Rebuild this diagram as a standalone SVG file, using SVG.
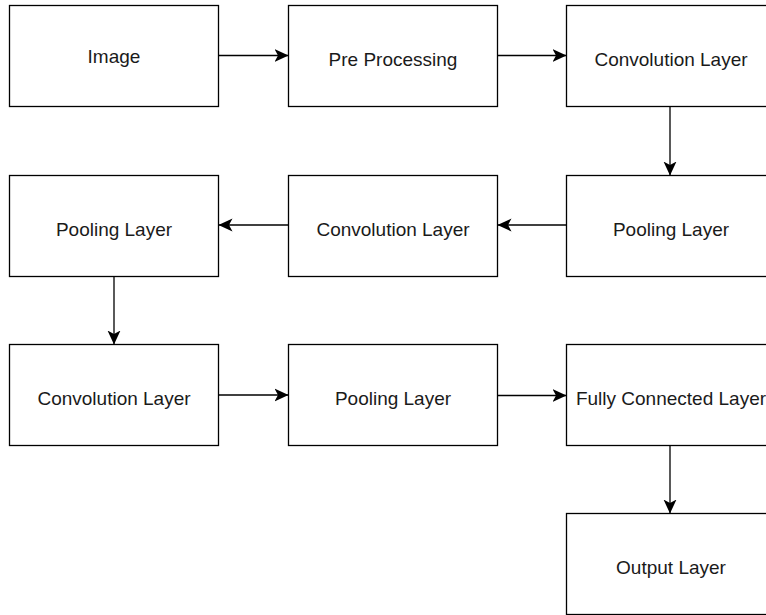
<svg xmlns="http://www.w3.org/2000/svg" width="766" height="615" viewBox="0 0 766 615">
<style>
.box{fill:#fff;stroke:#000;stroke-width:1.3}
.lbl{font-family:"Liberation Sans",Arial,sans-serif;font-size:19px;fill:#1a1a1a;text-anchor:middle}
.edge{fill:none;stroke:#000;stroke-width:1.3}
</style>
<defs>
<marker id="arr" viewBox="0 0 14 14" refX="14" refY="7" markerWidth="14" markerHeight="14" markerUnits="userSpaceOnUse" orient="auto">
<path d="M0,0.5 L14,7 L0,13.5 L3.5,7 Z" fill="#000"/>
</marker>
</defs>
<rect width="766" height="615" fill="#fff"/>
<g id="connectors">
<line class="edge" x1="218.5" y1="55.5" x2="288.5" y2="55.5" marker-end="url(#arr)"/>
<line class="edge" x1="497.5" y1="55.5" x2="566.5" y2="55.5" marker-end="url(#arr)"/>
<line class="edge" x1="670" y1="106.5" x2="670" y2="175.5" marker-end="url(#arr)"/>
<line class="edge" x1="566.5" y1="225" x2="497.5" y2="225" marker-end="url(#arr)"/>
<line class="edge" x1="288.5" y1="225" x2="218.5" y2="225" marker-end="url(#arr)"/>
<line class="edge" x1="114" y1="276.5" x2="114" y2="344.5" marker-end="url(#arr)"/>
<line class="edge" x1="218.5" y1="395" x2="288.5" y2="395" marker-end="url(#arr)"/>
<line class="edge" x1="497.5" y1="395.5" x2="566.5" y2="395.5" marker-end="url(#arr)"/>
<line class="edge" x1="670" y1="445.5" x2="670" y2="513.5" marker-end="url(#arr)"/>
</g>
<g id="image"><rect class="box" x="9.5" y="5.5" width="209" height="101"/><text class="lbl" x="114" y="63">Image</text></g>
<g id="preprocessing"><rect class="box" x="288.5" y="5.5" width="209" height="101"/><text class="lbl" x="393" y="66">Pre Processing</text></g>
<g id="conv1"><rect class="box" x="566.5" y="5.5" width="209" height="101"/><text class="lbl" x="671" y="66">Convolution Layer</text></g>
<g id="pool1"><rect class="box" x="566.5" y="175.5" width="209" height="101"/><text class="lbl" x="671" y="236">Pooling Layer</text></g>
<g id="conv2"><rect class="box" x="288.5" y="175.5" width="209" height="101"/><text class="lbl" x="393" y="236">Convolution Layer</text></g>
<g id="pool2"><rect class="box" x="9.5" y="175.5" width="209" height="101"/><text class="lbl" x="114" y="236">Pooling Layer</text></g>
<g id="conv3"><rect class="box" x="9.5" y="344.5" width="209" height="101"/><text class="lbl" x="114" y="405">Convolution Layer</text></g>
<g id="pool3"><rect class="box" x="288.5" y="344.5" width="209" height="101"/><text class="lbl" x="393" y="405">Pooling Layer</text></g>
<g id="fc"><rect class="box" x="566.5" y="344.5" width="209" height="101"/><text class="lbl" x="671" y="405">Fully Connected Layer</text></g>
<g id="output"><rect class="box" x="566.5" y="513.5" width="209" height="101"/><text class="lbl" x="671" y="574">Output Layer</text></g>
</svg>
